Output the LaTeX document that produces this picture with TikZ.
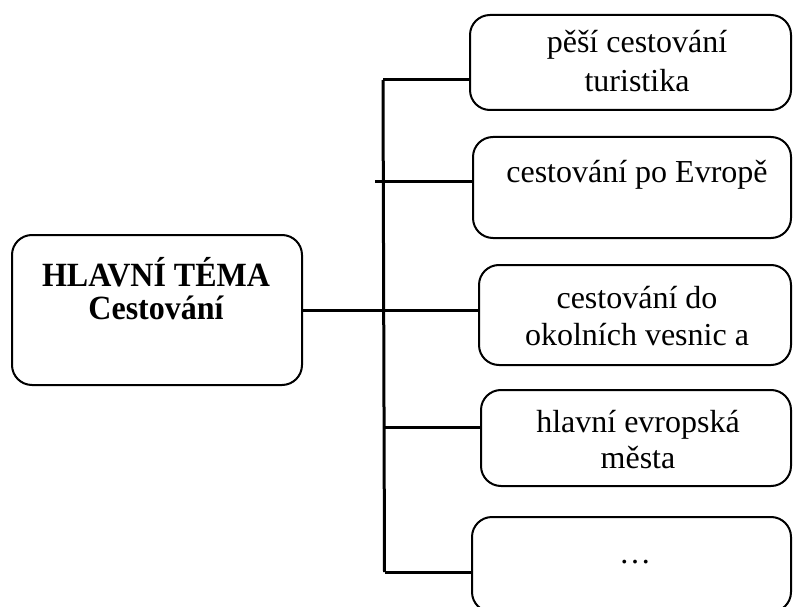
\documentclass[tikz,border=0pt]{standalone}
\usepackage{fontspec}
\setmainfont{Liberation Serif}
\begin{document}
\begin{tikzpicture}[x=1pt,y=-1pt,
  box/.style={draw,line width=2pt,rounded corners=20pt,inner sep=0pt,outer sep=0pt},
  link/.style={line width=3pt},
  label/.style={anchor=base,inner sep=0pt,font=\fontsize{32}{37}\selectfont},
  title/.style={label,font=\fontsize{32}{37}\selectfont\bfseries}]
\useasboundingbox (0,0) rectangle (793,607);
\clip (0,0) rectangle (793,607);
% boxes
\node[box,minimum width=290pt,minimum height=150pt] (main) at (157,310) {};
\node[box,minimum width=321pt,minimum height=95pt]  (b1) at (630.5,62.5) {};
\node[box,minimum width=318pt,minimum height=101pt] (b2) at (632,187.5) {};
\node[box,minimum width=312pt,minimum height=100pt] (b3) at (635,315) {};
\node[box,minimum width=310pt,minimum height=96pt]  (b4) at (636,438) {};
\node[box,minimum width=319pt,minimum height=95pt]  (b5) at (631.5,564.5) {};
% texts
\node[title,yscale=1.06] (mt1) at (156,286) {HLAVNÍ TÉMA};
\node[title,yscale=1.06] (mt2) at (156,319) {Cestování};
\node[label] (t1a) at (637,53) {pěší cestování};
\node[label] (t1b) at (637,92) {turistika};
\node[label] (t2)  at (637,182.5) {cestování po Evropě};
\node[label] (t3a) at (637,308) {cestování do};
\node[label] (t3b) at (637,345) {okolních vesnic a};
\node[label] (t4a) at (638,432) {hlavní evropská};
\node[label] (t4b) at (638,468) {města};
\node[label] (t5)  at (635,563) {…};
% connector tree
\coordinate (top) at (383,80);
\coordinate (bot) at (384.5,572);
\coordinate (j2) at (375,182);
\coordinate (j4) at (384,427);
\draw[link] (top) -- (bot);
\draw[link] (top) -- (b1.west |- top);
\draw[link] (j2) -- (b2.west |- j2);
\draw[link] (main.east) -- (b3.west |- main.east);
\draw[link] (j4) -- (b4.west |- j4);
\draw[link] (bot) -- (b5.west |- bot);
\end{tikzpicture}
\end{document}
